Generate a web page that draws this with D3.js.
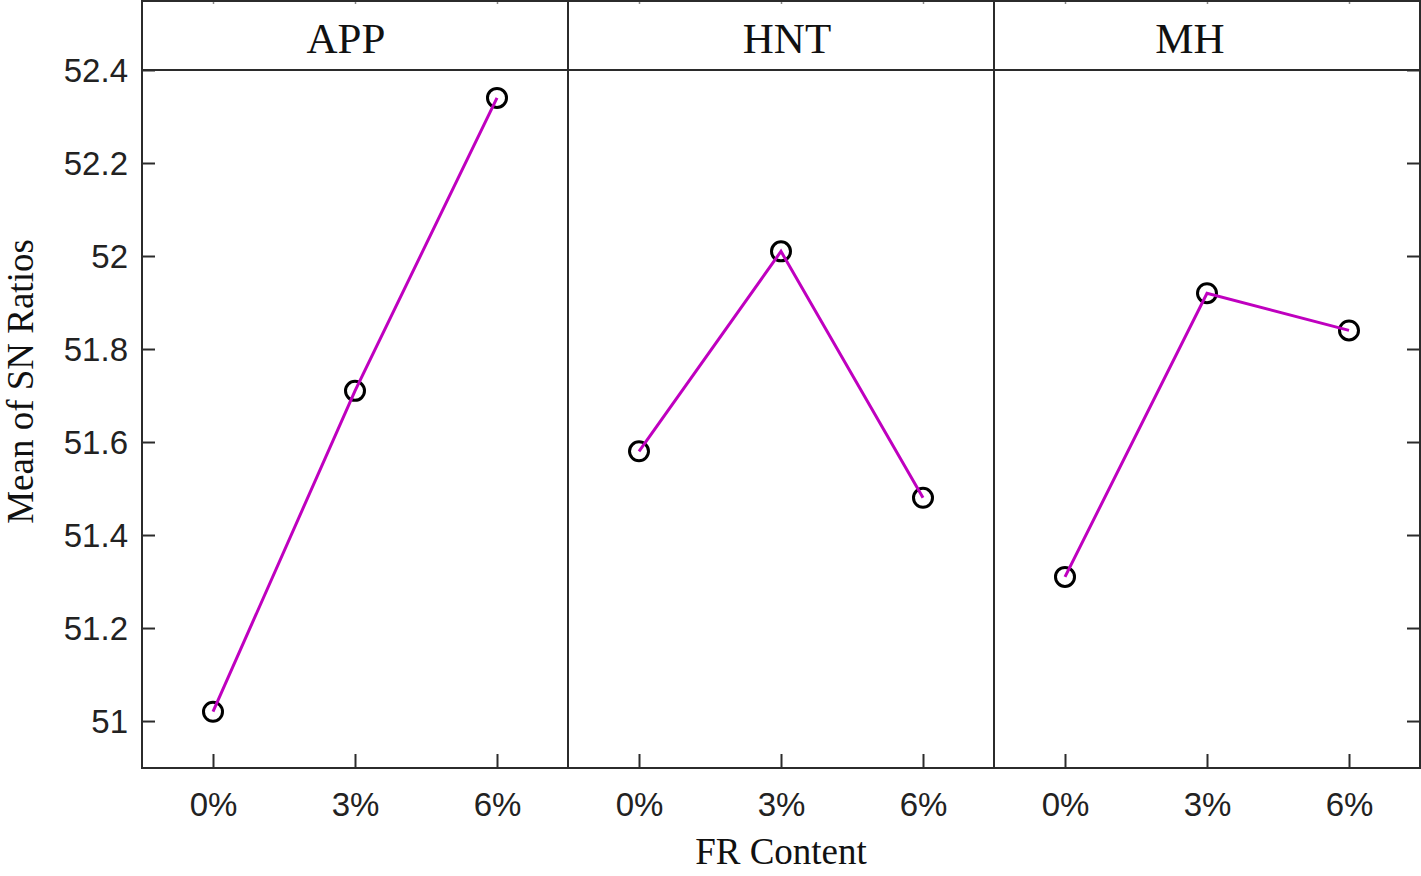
<!DOCTYPE html>
<html>
<head>
<meta charset="utf-8">
<script src="https://cdn.jsdelivr.net/npm/d3@7"></script>
<style>
  html, body { margin: 0; padding: 0; background: #fff; }
  svg { display: block; }
</style>
</head>
<body>
<svg id="chart" width="1421" height="876"></svg>
<script>
// ---- data ----
const panels = ["APP", "HNT", "MH"];
const levels = ["0%", "3%", "6%"];
const appValues = [51.02, 51.71, 52.34];
const hntValues = [51.58, 52.01, 51.48];
const mhValues  = [51.31, 51.92, 51.84];
const yTicks = [51, 51.2, 51.4, 51.6, 51.8, 52, 52.2, 52.4];
const yTitle = "Mean of SN Ratios";
const xTitle = "FR Content";

const seriesByPanel = { APP: appValues, HNT: hntValues, MH: mhValues };

// ---- layout ----
const plotLeft = 142, plotRight = 1420, plotTop = 70, plotBottom = 768, stripTop = 1;
const axisColor = "#2b2b2b";
const lineColor = "#bf00bf";
const stripOffsets = [-9, 6, -17];

const svg = d3.select("#chart");

const panelScale = d3.scaleBand().domain(panels).range([plotLeft, plotRight]).padding(0);
const y = d3.scaleLinear().domain([50.899, 52.4]).range([plotBottom, plotTop]);

const tickFmt = d => d3.format("")(+d.toFixed(1));

panels.forEach((p, i) => {
  const x0 = panelScale(p), bw = panelScale.bandwidth();
  const x = d3.scalePoint().domain(levels).range([x0, x0 + bw]).padding(0.5);
  const g = svg.append("g");

  // strip label
  g.append("text")
    .attr("x", x0 + bw / 2 + stripOffsets[i])
    .attr("y", 53)
    .attr("text-anchor", "middle")
    .attr("font-family", "'Liberation Serif', 'Times New Roman', serif")
    .attr("font-size", 43)
    .attr("fill", "#111")
    .text(p);

  // bottom x axis: ticks pointing up (inside)
  const xAxis = d3.axisBottom(x).tickSizeInner(-14).tickSizeOuter(0).tickPadding(0);
  const ax = g.append("g").attr("transform", `translate(0,${plotBottom})`).call(xAxis);
  ax.select(".domain").remove();
  ax.selectAll(".tick line").attr("stroke", axisColor).attr("stroke-width", 2);
  ax.selectAll(".tick text")
    .attr("y", 48)
    .attr("dy", null)
    .attr("font-family", "'Liberation Sans', Arial, sans-serif")
    .attr("font-size", 33)
    .attr("fill", "#222");

  // tiny top ticks
  const tx = d3.axisTop(x).tickSizeInner(-3).tickSizeOuter(0).tickFormat("");
  const tax = g.append("g").attr("transform", `translate(0,${stripTop})`).call(tx);
  tax.select(".domain").remove();
  tax.selectAll(".tick line").attr("stroke", "#888").attr("stroke-width", 1.5);

  const vals = seriesByPanel[p];
  const pts = levels.map((l, k) => ({ l, v: vals[k] }));
  g.append("g").selectAll("circle").data(pts).join("circle")
    .attr("cx", d => x(d.l))
    .attr("cy", d => y(d.v))
    .attr("r", 9.5)
    .attr("fill", "none")
    .attr("stroke", "#000")
    .attr("stroke-width", 3);
  g.append("path")
    .datum(pts)
    .attr("fill", "none")
    .attr("stroke", lineColor)
    .attr("stroke-width", 3)
    .attr("d", d3.line().x(d => x(d.l)).y(d => y(d.v)));
});

// left y axis: ticks inside
const yAxisL = d3.axisLeft(y).tickValues(yTicks).tickSizeInner(-13).tickSizeOuter(0).tickPadding(0).tickFormat(tickFmt);
const ayl = svg.append("g").attr("transform", `translate(${plotLeft},0)`).call(yAxisL);
ayl.select(".domain").remove();
ayl.selectAll(".tick line").attr("stroke", axisColor).attr("stroke-width", 2);
ayl.selectAll(".tick text")
  .attr("x", -14)
  .attr("dy", "0.36em")
  .attr("font-family", "'Liberation Sans', Arial, sans-serif")
  .attr("font-size", 33)
  .attr("fill", "#222");

// right y axis: ticks inside, no labels
const yAxisR = d3.axisRight(y).tickValues(yTicks).tickSizeInner(-13).tickSizeOuter(0).tickFormat("");
const ayr = svg.append("g").attr("transform", `translate(${plotRight},0)`).call(yAxisR);
ayr.select(".domain").remove();
ayr.selectAll(".tick line").attr("stroke", axisColor).attr("stroke-width", 2);

// frame lines
const frame = svg.append("g").attr("stroke", axisColor).attr("stroke-width", 2).attr("fill", "none");
frame.append("rect")
  .attr("x", plotLeft).attr("y", stripTop)
  .attr("width", plotRight - plotLeft).attr("height", plotBottom - stripTop);
frame.append("line")
  .attr("x1", plotLeft).attr("x2", plotRight)
  .attr("y1", plotTop).attr("y2", plotTop);
panels.slice(1).forEach(p => {
  frame.append("line")
    .attr("x1", panelScale(p)).attr("x2", panelScale(p))
    .attr("y1", stripTop).attr("y2", plotBottom);
});

// axis titles
svg.append("text")
  .attr("transform", `translate(33,${(238 + 525) / 2}) rotate(-90)`)
  .attr("text-anchor", "middle")
  .attr("font-family", "'Liberation Serif', 'Times New Roman', serif")
  .attr("font-size", 37)
  .attr("fill", "#111")
  .text(yTitle);

svg.append("text")
  .attr("x", (plotLeft + plotRight) / 2)
  .attr("y", 864)
  .attr("text-anchor", "middle")
  .attr("font-family", "'Liberation Serif', 'Times New Roman', serif")
  .attr("font-size", 37)
  .attr("fill", "#111")
  .text(xTitle);
</script>
</body>
</html>
